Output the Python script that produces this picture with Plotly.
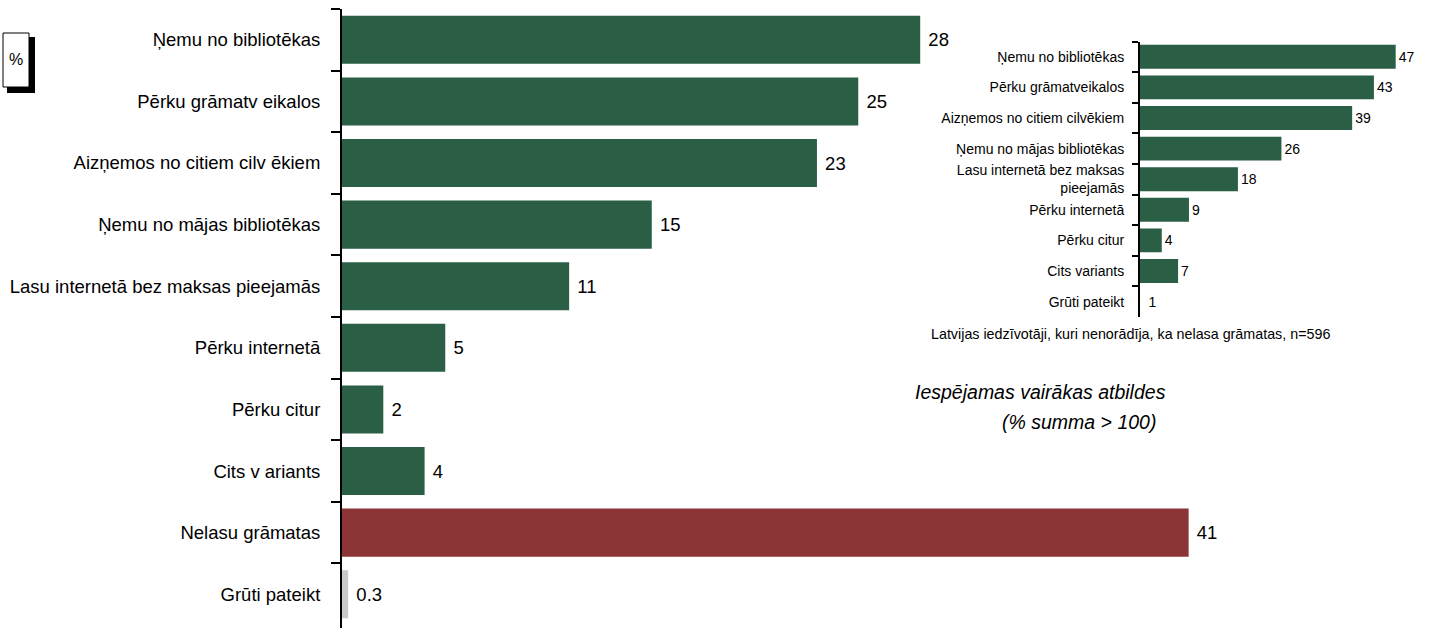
import plotly.graph_objects as go

W, H = 1431, 628

# ---- data ----
main_categories = [
    "Ņemu no bibliotēkas",
    "Pērku grāmatv eikalos",
    "Aizņemos no citiem cilv ēkiem",
    "Ņemu no mājas bibliotēkas",
    "Lasu internetā bez maksas pieejamās",
    "Pērku internetā",
    "Pērku citur",
    "Cits v ariants",
    "Nelasu grāmatas",
    "Grūti pateikt",
]
main_values = [28, 25, 23, 15, 11, 5, 2, 4, 41, 0.3]

inset_categories = [
    "Ņemu no bibliotēkas",
    "Pērku grāmatveikalos",
    "Aizņemos no citiem cilvēkiem",
    "Ņemu no mājas bibliotēkas",
    "Lasu internetā bez maksas<br>pieejamās",
    "Pērku internetā",
    "Pērku citur",
    "Cits variants",
    "Grūti pateikt",
]
inset_values = [47, 43, 39, 26, 18, 9, 4, 7, 1]

note_sample = "Latvijas iedzīvotāji, kuri nenorādīja, ka nelasa grāmatas, n=596"
note_multi_1 = "Iespējamas vairākas atbildes"
note_multi_2 = "(% summa > 100)"
unit_label = "%"

# ---- styles ----
GREEN = "#2A5E45"
RED = "#8B3536"
GRAY = "#C9C9C9"
FONT = "Liberation Sans, Arial, sans-serif"

main_colors = [GREEN] * 8 + [RED, GRAY]
inset_colors = [GREEN] * 8 + ["#FFFFFF"]


def px_x(x):
    return x / W


def px_y(y):
    return 1 - y / H


fig = go.Figure()

fig.add_trace(go.Bar(
    y=main_categories, x=main_values, orientation="h",
    marker=dict(color=main_colors, line=dict(width=0)),
    text=[" " + str(v) for v in main_values], textposition="outside",
    textfont=dict(size=18.5, color="black", family=FONT),
    cliponaxis=False, xaxis="x", yaxis="y", showlegend=False,
))

fig.add_trace(go.Bar(
    y=inset_categories, x=inset_values, orientation="h",
    marker=dict(color=inset_colors, line=dict(width=0)),
    text=[str(v) for v in inset_values], textposition="outside",
    textfont=dict(size=14, color="black", family=FONT),
    cliponaxis=False, xaxis="x2", yaxis="y2", showlegend=False,
))

main_scale = 20.65  # px per unit
main_x0 = 342
main_range = 50
inset_scale = 5.44
inset_x0 = 1140
inset_range = 50

main_top, main_band = 9.0, 62.2
inset_top, inset_band = 41.5, 30.6

fig.update_layout(
    width=W, height=H,
    margin=dict(l=0, r=0, t=0, b=0, autoexpand=False),
    paper_bgcolor="white", plot_bgcolor="rgba(0,0,0,0)",
    font=dict(family=FONT, color="black"),
    bargap=0.22,
    xaxis=dict(
        domain=[px_x(main_x0), px_x(main_x0 + main_range * main_scale)],
        range=[0, main_range], visible=False, fixedrange=True,
    ),
    yaxis=dict(
        domain=[0, px_y(main_top)],
        type="category", categoryorder="array", categoryarray=main_categories,
        range=[9.5 + (main_top + 10 * main_band - H) / main_band, -0.5],
        showline=True, linecolor="black", linewidth=2,
        ticks="outside", ticklen=9, tickwidth=2, tickcolor="black",
        tickson="boundaries", ticklabelstandoff=16, automargin=False,
        tickfont=dict(size=18.5, family=FONT, color="black"),
        showgrid=False, zeroline=False, anchor="x", fixedrange=True,
    ),
    xaxis2=dict(
        domain=[px_x(inset_x0), px_x(inset_x0 + inset_range * inset_scale)],
        range=[0, inset_range], visible=False, anchor="y2", fixedrange=True,
    ),
    yaxis2=dict(
        domain=[px_y(inset_top + 9 * inset_band), px_y(inset_top)],
        type="category", categoryorder="array", categoryarray=inset_categories,
        range=[8.5, -0.5],
        showline=True, linecolor="black", linewidth=2,
        ticks="outside", ticklen=6, tickwidth=2, tickcolor="black",
        tickson="boundaries", ticklabelstandoff=11, automargin=False,
        tickfont=dict(size=14, family=FONT, color="black"),
        showgrid=False, zeroline=False, anchor="x2", fixedrange=True,
    ),
    shapes=[
        dict(type="rect", xref="paper", yref="paper",
             x0=px_x(7), x1=px_x(35), y0=px_y(93), y1=px_y(37),
             fillcolor="black", line=dict(width=0), layer="above"),
        dict(type="rect", xref="paper", yref="paper",
             x0=px_x(3), x1=px_x(29), y0=px_y(87), y1=px_y(33),
             fillcolor="white", line=dict(color="black", width=1), layer="above"),
    ],
    annotations=[
        dict(text=unit_label, xref="paper", yref="paper", x=px_x(16), y=px_y(60),
             showarrow=False, font=dict(size=16, family=FONT, color="black"),
             xanchor="center", yanchor="middle"),
        dict(text=note_sample, xref="paper", yref="paper", x=px_x(1130), y=px_y(334),
             showarrow=False, font=dict(size=14.3, family=FONT, color="black"),
             xanchor="center", yanchor="middle"),
        dict(text="<i>" + note_multi_1 + "</i>", xref="paper", yref="paper",
             x=px_x(1040), y=px_y(392), showarrow=False,
             font=dict(size=19.5, family=FONT, color="black"),
             xanchor="center", yanchor="middle"),
        dict(text="<i>" + note_multi_2 + "</i>", xref="paper", yref="paper",
             x=px_x(1079), y=px_y(422), showarrow=False,
             font=dict(size=19.5, family=FONT, color="black"),
             xanchor="center", yanchor="middle"),
    ],
)

fig.write_html(
    "out.html",
    config={"displayModeBar": False},
    post_script="document.body.style.margin='0px';document.body.style.overflow='hidden';",
)
